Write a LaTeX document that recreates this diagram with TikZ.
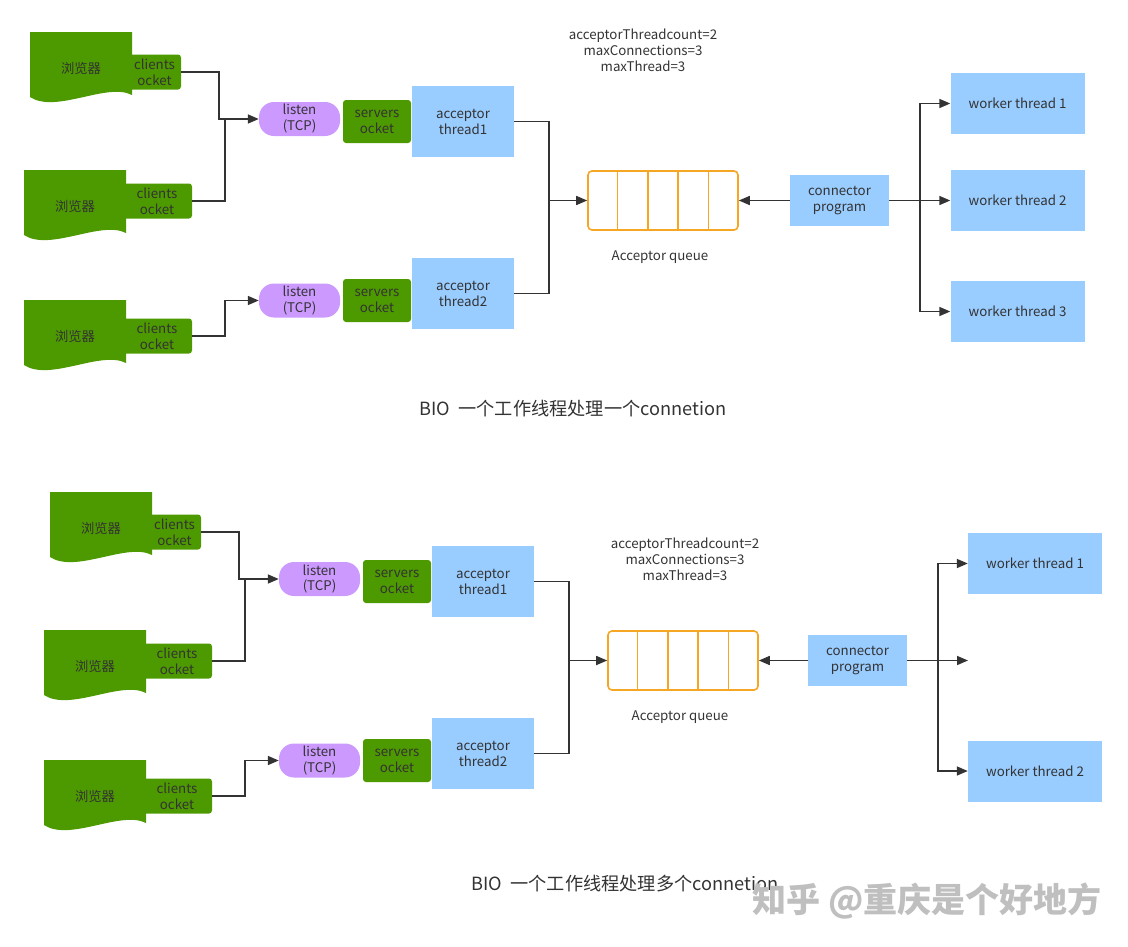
\documentclass[tikz,border=0pt]{standalone}
\usepackage{fontspec}
\setmainfont{Noto Sans CJK SC}
\usetikzlibrary{arrows.meta,calc}
\definecolor{grn}{HTML}{4D9900}
\definecolor{pur}{HTML}{CC99FF}
\definecolor{blu}{HTML}{99CCFF}
\definecolor{org}{HTML}{F5A623}
\definecolor{txt}{HTML}{333333}

\begin{document}
\begin{tikzpicture}[x=1pt,y=-1pt,
	every node/.style={font=\fontsize{13.3}{16}\selectfont, text=txt, align=center, inner sep=0pt},
	doc/.style={minimum width=102pt, minimum height=72pt,
		path picture={\fill[grn] (path picture bounding box.north west) -- (path picture bounding box.north east)
			-- ([yshift=9pt]path picture bounding box.south east)
			.. controls ([xshift=-25pt,yshift=22pt]path picture bounding box.south east)
			and ([xshift=26pt,yshift=-10pt]path picture bounding box.south west)
			.. ([yshift=7pt]path picture bounding box.south west) -- cycle;}},
	sock/.style={fill=grn, rounded corners=3pt, minimum height=35pt},
	lsn/.style={fill=pur, rounded corners=15pt, minimum width=81pt, minimum height=34pt},
	srv/.style={fill=grn, rounded corners=3pt, minimum width=68pt, minimum height=43pt},
	acc/.style={fill=blu, minimum width=102pt, minimum height=71pt},
	que/.style={draw=org, line width=1.6pt, rounded corners=4pt, minimum width=150pt, minimum height=59pt},
	qline/.style={draw=org, line width=1.6pt},
	prog/.style={fill=blu, minimum width=99pt, minimum height=51pt},
	wrk/.style={fill=blu, minimum width=134pt, minimum height=61pt},
	conn/.style={draw=txt, line width=1.6pt},
	arr/.style={conn, -{Triangle[length=11pt,width=9pt]}},
	captxt/.style={font=\fontsize{18.2}{21}\selectfont}
	]
	\useasboundingbox (0,0) rectangle (1128,946);

	% BIO, one connetion per worker thread
	\node[doc] (br1) at (81, 68)   {浏览器};
	\node[doc] (br2) at (75, 206)  {浏览器};
	\node[doc] (br3) at (75, 336)  {浏览器};
	\node[sock, minimum width=53pt] (cs1) at (154.5, 72) {clients\\ocket};
	\node[sock, minimum width=70pt] (cs2) at (157, 201)  {clients\\ocket};
	\node[sock, minimum width=70pt] (cs3) at (157, 336)  {clients\\ocket};
	\node[lsn] (l1) at (299.5, 119)   {listen\\(TCP)};
	\node[lsn] (l2) at (299.5, 300.5) {listen\\(TCP)};
	\node[srv] (s1) at (377, 121.5) {servers\\ocket};
	\node[srv] (s2) at (377, 300.5) {servers\\ocket};
	\node[acc] (a1) at (463, 121.5) {acceptor\\thread1};
	\node[acc] (a2) at (463, 293.5) {acceptor\\thread2};
	\node[que] (q1) at (663, 200.5) {};
	\node (t1) at (643, 50) {acceptorThreadcount=2\\maxConnections=3\\maxThread=3};
	\node (ql1) at (660, 257) {Acceptor queue};
	\node[prog] (p1) at (839.5, 200.5) {connector\\program};
	\node[wrk] (w1) at (1017.5, 103.5) {worker thread 1};
	\node[wrk] (w2) at (1017.5, 200.5) {worker thread 2};
	\node[wrk] (w3) at (1017.5, 311.5) {worker thread 3};
	\node[captxt] (cp1) at (573, 409) {BIO\ \ 一个工作线程处理一个connetion};

	\foreach \i in {1,...,4}
		\draw[qline] ($(q1.north west)!\i/5!(q1.north east)$) -- ($(q1.south west)!\i/5!(q1.south east)$);

	\draw[arr] (cs1.east) -| ([xshift=-40]l1.west) -- (l1.west);
	\draw[conn] (cs2.east) -| ([xshift=-34]l1.west);
	\draw[arr] (cs3.east) -| ([xshift=-34]l2.west) -- (l2.west);
	\draw[arr] (a1.east) -| ([xshift=-38]q1.west) -- (q1.west);
	\draw[conn] (a2.east) -| ([xshift=-38]q1.west);
	\draw[arr] (p1.west) -- (q1.east);
	\coordinate (k1) at ([xshift=31]p1.east);
	\draw[arr] (p1.east) -- (w2.west);
	\draw[arr] (k1) |- (w1.west);
	\draw[arr] (k1) |- (w3.west);

	% BIO, many connetions per worker thread
	\node[doc] (br4) at (101, 528) {浏览器};
	\node[doc] (br5) at (95, 666)  {浏览器};
	\node[doc] (br6) at (95, 796)  {浏览器};
	\node[sock, minimum width=53pt] (cs4) at (174.5, 532) {clients\\ocket};
	\node[sock, minimum width=70pt] (cs5) at (177, 661)   {clients\\ocket};
	\node[sock, minimum width=70pt] (cs6) at (177, 796)   {clients\\ocket};
	\node[lsn] (l3) at (319.5, 579)   {listen\\(TCP)};
	\node[lsn] (l4) at (319.5, 760.5) {listen\\(TCP)};
	\node[srv] (s3) at (397, 581.5) {servers\\ocket};
	\node[srv] (s4) at (397, 760.5) {servers\\ocket};
	\node[acc] (a3) at (483, 581.5) {acceptor\\thread1};
	\node[acc] (a4) at (483, 753.5) {acceptor\\thread2};
	\node[que] (q2) at (683, 660.5) {};
	\node (t2) at (685, 559) {acceptorThreadcount=2\\maxConnections=3\\maxThread=3};
	\node (ql2) at (680, 717) {Acceptor queue};
	\node[prog] (p2) at (857.5, 660.5) {connector\\program};
	\node[wrk] (w4) at (1035, 563.5) {worker thread 1};
	\node[wrk] (w5) at (1035, 771)   {worker thread 2};
	\coordinate (e2) at (968, 660.5);
	\node[captxt] (cp2) at (625, 884) {BIO\ \ 一个工作线程处理多个connetion};

	\foreach \i in {1,...,4}
		\draw[qline] ($(q2.north west)!\i/5!(q2.north east)$) -- ($(q2.south west)!\i/5!(q2.south east)$);

	\draw[arr] (cs4.east) -| ([xshift=-40]l3.west) -- (l3.west);
	\draw[conn] (cs5.east) -| ([xshift=-34]l3.west);
	\draw[arr] (cs6.east) -| ([xshift=-34]l4.west) -- (l4.west);
	\draw[arr] (a3.east) -| ([xshift=-38]q2.west) -- (q2.west);
	\draw[conn] (a4.east) -| ([xshift=-38]q2.west);
	\draw[arr] (p2.west) -- (q2.east);
	\coordinate (k2) at ([xshift=31]p2.east);
	\draw[arr] (p2.east) -- (e2);
	\draw[arr] (k2) |- (w4.west);
	\draw[arr] (k2) |- (w5.west);

	\node[font=\fontsize{34}{38}\bfseries, text=black!25] (wm) at (927, 901) {知乎 @重庆是个好地方};
\end{tikzpicture}
\end{document}
